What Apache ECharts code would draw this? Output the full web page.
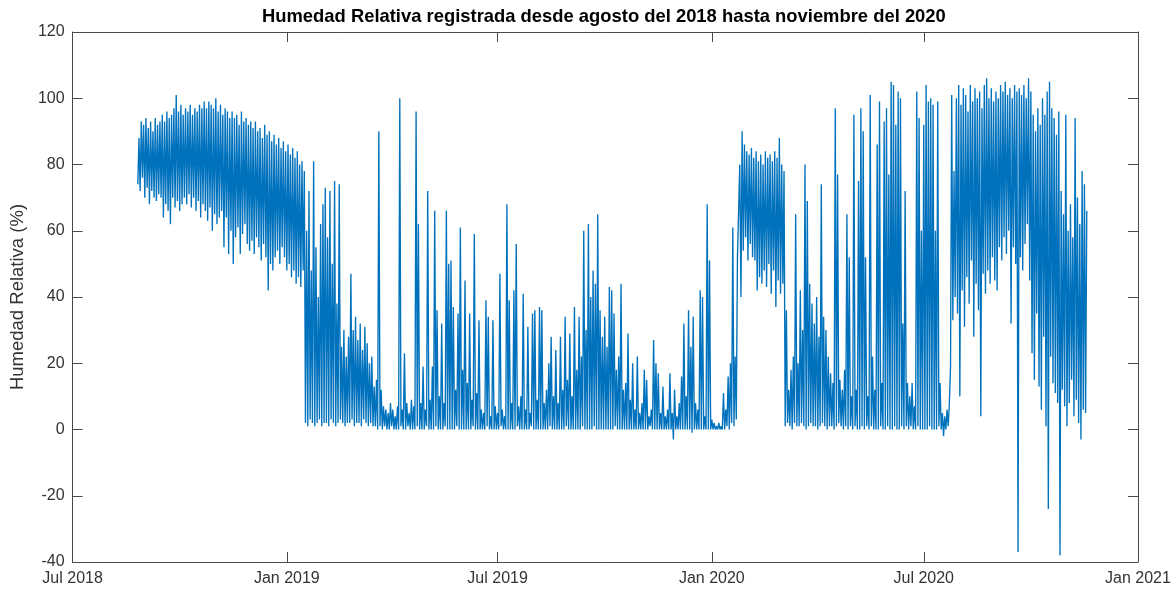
<!DOCTYPE html>
<html>
<head>
<meta charset="utf-8">
<script src="https://cdn.jsdelivr.net/npm/echarts@6/dist/echarts.min.js"></script>
<style>
  html, body { margin: 0; background: #fff; }
  #chart { width: 1175px; height: 590px; }
</style>
</head>
<body>
<div id="chart"></div>
<script>
// humedad relativa, bins de 2 dias desde el 26 ago 2018: minimo y maximo de cada bin
var startDate = [2018, 7, 26];
var stepDays = 2;

// ago 2018 - ene 2019 (temporada humeda)
var hi2018 = [88,93,92,94,91,93,90,94,92,93,
  95,93,96,94,95,97,101,96,98,95,
  97,96,98,95,97,96,98,97,99,97,
  99,98,97,100,96,98,95,97,96,94,
  96,94,95,92,96,93,94,92,93,91,
  93,90,91,88,92,89,90,87,89,86,
  88,85,87,84,86,83,85,82,84,80,
  81,78];
var lo2018 = [74,72,76,70,73,68,72,70,69,71,
  70,64,68,66,62,70,67,69,66,68,
  70,68,71,67,70,66,69,64,68,66,
  63,67,60,65,62,64,66,55,64,53,
  60,50,58,61,53,59,62,56,54,57,
  53,58,55,51,56,52,42,50,48,52,
  54,50,55,52,48,50,46,48,44,46,
  43,48];

// ene 2019 - feb 2020 (casi cero con picos)
var hi2019 = [60,72,48,81,55,40,62,68,73,58,
  72,50,75,38,74,25,30,22,28,47,
  30,34,27,32,24,31,26,20,22,13,
  15,90,12,7,6,5,8,6,4,7,
  100,6,23,8,5,9,7,96,62,8,
  19,6,72,9,19,66,36,10,32,8,
  66,50,51,37,12,35,61,18,45,14,
  35,9,59,11,33,6,5,39,34,4,
  33,7,5,47,6,4,68,39,8,42,
  56,7,10,41,6,31,5,35,36,9,
  37,36,8,12,20,28,10,24,8,28,
  12,34,15,29,10,37,18,34,22,60,
  30,62,40,48,44,65,36,28,34,25,
  43,42,35,18,22,44,12,14,29,9,
  20,6,22,5,8,18,15,4,6,27,
  20,17,5,13,4,6,17,5,12,4,
  8,16,32,10,36,25,34,8,6,42,
  40,4,68,51,3,2,1,2,1,11,
  6,16,20,61,22,52];
var lo2019 = [2,1,3,2,1,2,3,1,2,2,
  1,3,2,1,2,3,2,1,2,2,
  3,1,2,2,1,3,2,1,2,1,
  1,0,1,0,1,0,0,1,0,0,
  0,1,0,0,1,0,0,0,1,0,
  0,0,1,0,0,0,1,0,0,0,
  1,0,0,0,0,1,0,0,0,0,
  0,0,1,0,0,0,0,0,1,0,
  0,0,0,0,1,0,0,0,0,0,
  0,1,0,0,0,0,0,1,0,0,
  0,0,0,0,0,1,0,0,0,0,
  0,0,1,0,0,0,0,0,0,1,
  0,0,0,0,1,0,0,0,0,0,
  0,0,0,1,0,0,0,0,0,0,
  0,0,0,0,0,0,0,0,1,0,
  0,0,0,0,0,0,0,0,-3,0,
  0,0,0,0,0,0,-1,0,0,0,
  0,0,0,0,0,0,0,0,0,0,
  0,1,0,2,1,3];

// feb - mar 2020
var hiBlock = [80,90,86,84,83,85,82,84,81,83,80,84,82,83,81,84,82,88,80,78];
var loBlock = [66,40,54,58,51,56,52,51,42,46,44,48,43,50,41,48,37,45,41,44];

// mar - ago 2020
var hi2020a = [36,12,18,22,65,20,42,30,80,69,
  44,38,32,40,28,74,34,30,22,17,
  14,97,77,15,12,18,65,52,10,95,
  12,75,97,90,52,10,101,22,12,86,
  99,14,93,97,77,105,104,92,102,100,
  32,72,14,10,14,7,102,94,60,92,
  104,99,100,98,60,99,14,5,4,6,
  8];
var lo2020a = [1,2,1,0,2,1,1,2,1,0,
  1,2,1,1,0,1,2,1,0,1,
  1,0,1,2,1,0,1,0,1,0,
  1,0,0,1,0,1,0,1,0,0,
  0,1,0,0,1,0,0,1,0,0,
  1,0,1,0,1,0,0,1,0,0,
  0,0,1,0,0,0,1,0,-2,0,
  1];

// ago - nov 2020
var hi2020b = [101,78,100,104,98,103,101,96,104,99,
  103,100,102,97,104,106,100,103,99,102,
  100,104,102,105,101,103,100,104,102,103,
  101,104,100,106,102,95,90,97,92,100,
  95,102,105,97,94,89,96,72,65,95,
  60,68,58,94,70,62,78,74,66];
var lo2020b = [19,33,40,35,10,42,31,46,38,51,
  28,44,36,4,47,41,48,44,52,45,
  42,55,51,58,53,60,32,55,50,-37,
  52,48,56,62,45,23,15,35,13,6,
  28,1,-24,22,14,11,8,-38,12,7,
  1,8,15,4,9,2,-3,6,5];

var tickDates = [[2018,6,1],[2019,0,1],[2019,6,1],[2020,0,1],[2020,6,1],[2021,0,1]];
var tickLabels = ['Jul 2018','Jan 2019','Jul 2019','Jan 2020','Jul 2020','Jan 2021'];

var hi = [].concat(hi2018, hi2019, hiBlock, hi2020a, hi2020b);
var lo = [].concat(lo2018, lo2019, loBlock, lo2020a, lo2020b);
var DAY = 86400000;
var t0 = Date.UTC(startDate[0], startDate[1], startDate[2]);
var serie = [];
for (var i = 0; i < hi.length; i++) {
  serie.push([t0 + i * stepDays * DAY, lo[i]]);
  serie.push([t0 + (i * stepDays + 1) * DAY, hi[i]]);
}
var tickTimes = tickDates.map(function (d) { return Date.UTC(d[0], d[1], d[2]); });

var font = 'Arial, "Liberation Sans", Helvetica, sans-serif';
var axisColor = '#4a4a4a';
var txtColor = '#333';

function fechaLabel(v) {
  for (var k = 0; k < tickTimes.length; k++) {
    if (Math.abs(tickTimes[k] - v) < DAY) return tickLabels[k];
  }
  return '';
}

var chart = echarts.init(document.getElementById('chart'));
chart.setOption({
  animation: false,
  backgroundColor: '#fff',
  title: {
    text: 'Humedad Relativa registrada desde agosto del 2018 hasta noviembre del 2020',
    left: 257,
    top: 3,
    textStyle: { fontFamily: font, fontSize: 18.4, fontWeight: 'bold', color: '#000' }
  },
  grid: { left: 70, right: 37, top: 32, bottom: 28 },
  xAxis: [{
    type: 'value',
    min: tickTimes[0],
    max: tickTimes[tickTimes.length - 1],
    axisLine: { show: true, onZero: false, lineStyle: { color: axisColor, width: 1 } },
    axisTick: { show: true, inside: true, length: 10, customValues: tickTimes, lineStyle: { color: axisColor } },
    axisLabel: {
      customValues: tickTimes,
      showMinLabel: true, showMaxLabel: true, hideOverlap: false,
      margin: 9, fontSize: 16, fontFamily: font, color: txtColor,
      formatter: fechaLabel
    },
    splitLine: { show: false }
  }, {
    type: 'value',
    position: 'top',
    min: tickTimes[0],
    max: tickTimes[tickTimes.length - 1],
    axisLine: { show: true, onZero: false, lineStyle: { color: axisColor, width: 1 } },
    axisTick: { show: true, inside: true, length: 10, customValues: tickTimes, lineStyle: { color: axisColor } },
    axisLabel: { show: false },
    splitLine: { show: false }
  }],
  yAxis: [{
    type: 'value',
    min: -40, max: 120, interval: 20,
    name: 'Humedad Relativa (%)',
    nameLocation: 'middle',
    nameGap: 36,
    nameTextStyle: { fontFamily: font, fontSize: 18.5, color: txtColor },
    axisLine: { show: true, onZero: false, lineStyle: { color: axisColor, width: 1 } },
    axisTick: { show: true, inside: true, length: 10, lineStyle: { color: axisColor } },
    axisLabel: { margin: 8, fontSize: 16, fontFamily: font, color: txtColor },
    splitLine: { show: false }
  }, {
    type: 'value',
    position: 'right',
    min: -40, max: 120, interval: 20,
    axisLine: { show: true, onZero: false, lineStyle: { color: axisColor, width: 1 } },
    axisTick: { show: true, inside: true, length: 10, lineStyle: { color: axisColor } },
    axisLabel: { show: false },
    splitLine: { show: false }
  }],
  series: [{
    type: 'line',
    data: serie,
    xAxisIndex: 0,
    yAxisIndex: 0,
    showSymbol: false,
    sampling: null,
    lineStyle: { color: '#0072BD', width: 1.35 },
    itemStyle: { color: '#0072BD' }
  }]
});
</script>
</body>
</html>
